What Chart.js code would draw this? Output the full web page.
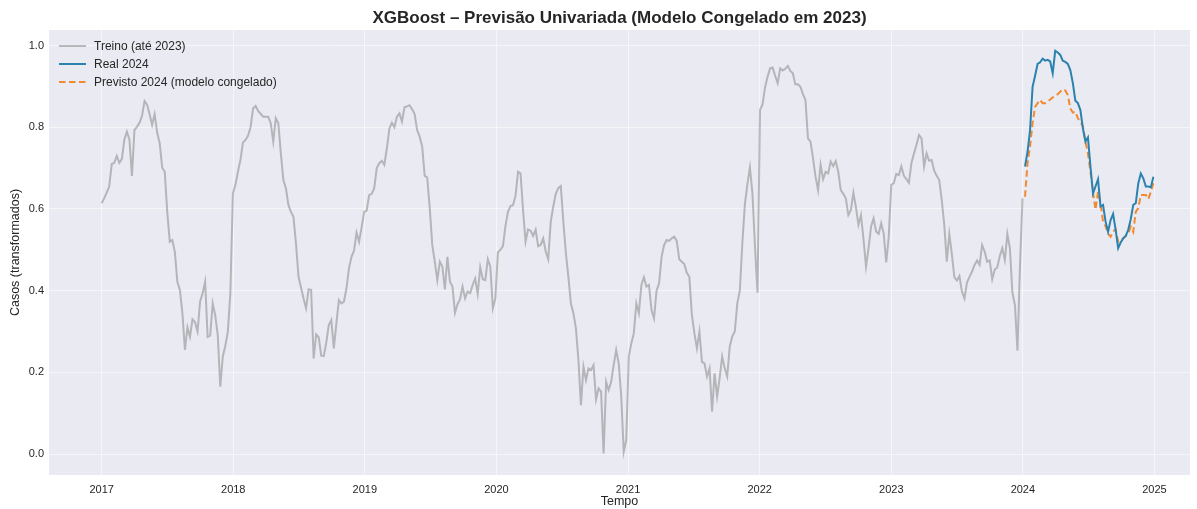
<!DOCTYPE html>
<html><head><meta charset="utf-8">
<script src="https://cdn.jsdelivr.net/npm/chart.js@4.4.1/dist/chart.umd.min.js"></script>
<style>html,body{margin:0;padding:0;background:#fff;} canvas{display:block;}</style>
</head><body>
<canvas id="c" width="1197" height="509"></canvas>
<script>
const chartTitle = 'XGBoost – Previsão Univariada (Modelo Congelado em 2023)';
const xAxisTitle = 'Tempo';
const yAxisTitle = 'Casos (transformados)';
const seriesLabels = ['Treino (até 2023)', 'Real 2024', 'Previsto 2024 (modelo congelado)'];
const trainStart = '2017-01-01';
const testStart = '2024-01-07';
const xTickYears = [2017, 2018, 2019, 2020, 2021, 2022, 2023, 2024, 2025];
const yTickValues = [0.0, 0.2, 0.4, 0.6, 0.8, 1.0];

const trainValues = [
0.614,0.626,0.640,0.655,0.710,0.713,0.730,0.713,0.722,0.770,
0.789,0.770,0.681,0.793,0.801,0.811,0.828,0.864,0.855,0.832,
0.806,0.832,0.787,0.761,0.701,0.691,0.593,0.520,0.524,0.495,
0.422,0.402,0.345,0.255,0.310,0.287,0.330,0.323,0.300,0.373,
0.394,0.422,0.287,0.290,0.369,0.340,0.292,0.165,0.239,0.265,
0.300,0.394,0.638,0.659,0.691,0.720,0.763,0.769,0.779,0.800,
0.846,0.852,0.840,0.833,0.826,0.826,0.826,0.810,0.765,0.822,
0.810,0.736,0.671,0.651,0.610,0.593,0.581,0.516,0.434,0.408,
0.381,0.357,0.403,0.402,0.234,0.293,0.286,0.241,0.240,0.273,
0.316,0.328,0.259,0.320,0.377,0.369,0.373,0.406,0.455,0.483,
0.498,0.542,0.520,0.555,0.593,0.596,0.634,0.637,0.651,0.700,
0.712,0.718,0.708,0.748,0.797,0.811,0.800,0.826,0.834,0.814,
0.849,0.851,0.854,0.844,0.833,0.793,0.777,0.753,0.681,0.677,
0.602,0.512,0.471,0.426,0.471,0.459,0.403,0.483,0.422,0.410,
0.346,0.367,0.379,0.410,0.381,0.398,0.394,0.414,0.430,0.392,
0.457,0.428,0.426,0.477,0.459,0.357,0.381,0.494,0.500,0.509,
0.558,0.593,0.607,0.609,0.632,0.691,0.687,0.597,0.520,0.550,
0.547,0.534,0.549,0.509,0.512,0.528,0.496,0.477,0.569,0.606,
0.637,0.651,0.656,0.569,0.493,0.434,0.369,0.345,0.308,0.230,
0.120,0.214,0.181,0.210,0.206,0.218,0.134,0.161,0.153,0.002,
0.177,0.157,0.177,0.218,0.255,0.222,0.141,0.006,0.035,0.239,
0.271,0.296,0.369,0.345,0.414,0.433,0.410,0.414,0.353,0.332,
0.400,0.418,0.483,0.512,0.524,0.522,0.528,0.532,0.522,0.477,
0.471,0.465,0.444,0.434,0.341,0.296,0.259,0.300,0.226,0.222,
0.190,0.210,0.104,0.198,0.141,0.186,0.239,0.210,0.190,0.263,
0.288,0.300,0.369,0.400,0.516,0.612,0.661,0.702,0.638,0.508,
0.395,0.842,0.856,0.898,0.924,0.944,0.946,0.926,0.908,0.944,
0.939,0.943,0.950,0.938,0.932,0.905,0.905,0.899,0.881,0.867,
0.773,0.765,0.724,0.679,0.646,0.708,0.673,0.691,0.687,0.716,
0.705,0.717,0.691,0.646,0.637,0.626,0.585,0.597,0.640,0.604,
0.561,0.585,0.526,0.459,0.504,0.557,0.577,0.545,0.539,0.565,
0.540,0.469,0.532,0.659,0.663,0.686,0.683,0.704,0.681,0.673,
0.664,0.713,0.736,0.757,0.781,0.773,0.704,0.736,0.718,0.720,
0.694,0.681,0.671,0.622,0.561,0.471,0.539,0.490,0.433,0.425,
0.436,0.398,0.381,0.420,0.434,0.447,0.463,0.474,0.463,0.512,
0.496,0.471,0.474,0.428,0.452,0.457,0.485,0.504,0.475,0.539,
0.504,0.395,0.365,0.253,0.460,0.626
];

const realValues = [
0.704,0.740,0.793,0.899,0.926,0.955,0.959,0.968,0.963,0.965,
0.961,0.932,0.987,0.983,0.977,0.963,0.960,0.955,0.940,0.908,
0.865,0.859,0.842,0.797,0.765,0.775,0.704,0.638,0.655,0.673,
0.606,0.610,0.569,0.544,0.573,0.588,0.549,0.504,0.518,0.528,
0.534,0.549,0.575,0.610,0.614,0.663,0.687,0.675,0.655,0.655,
0.653,0.679
];

const predValues = [
0.630,0.712,0.753,0.810,0.850,0.859,0.867,0.859,0.859,0.863,
0.868,0.873,0.877,0.881,0.887,0.893,0.890,0.879,0.846,0.836,
0.838,0.822,0.814,0.802,0.765,0.736,0.691,0.642,0.598,0.642,
0.614,0.569,0.558,0.540,0.532,0.545,0.550,0.520,0.524,0.528,
0.534,0.540,0.557,0.544,0.593,0.602,0.634,0.634,0.634,0.624,
0.642,0.663
];

const seriesColors = ['rgba(128,128,128,0.5)', '#2c82ae', '#f28a30'];
const textColor = '#262626';
const fontFamily = '"Liberation Sans", Arial, sans-serif';

function weeklyDates(start, n) {
  const d0 = Date.parse(start + 'T00:00:00Z');
  return Array.from({length: n}, (_, i) => d0 + i * 7 * 864e5);
}
function decimalYear(ms) {
  const y = new Date(ms).getUTCFullYear();
  const a = Date.UTC(y, 0, 1), b = Date.UTC(y + 1, 0, 1);
  return y + (ms - a) / (b - a);
}
function toPoints(start, vals) {
  const dates = weeklyDates(start, vals.length);
  return vals.map((v, i) => ({x: decimalYear(dates[i]), y: v}));
}

const datasets = [
  {label: seriesLabels[0], data: toPoints(trainStart, trainValues), borderColor: seriesColors[0], borderWidth: 2, pointRadius: 0, tension: 0},
  {label: seriesLabels[1], data: toPoints(testStart, realValues), borderColor: seriesColors[1], borderWidth: 2, pointRadius: 0, tension: 0},
  {label: seriesLabels[2], data: toPoints(testStart, predValues), borderColor: seriesColors[2], borderWidth: 2, borderDash: [6.5, 3.5], pointRadius: 0, tension: 0}
];

const decorPlugin = {
  id: 'decor',
  beforeDraw(chart) {
    const {ctx, chartArea: a} = chart;
    ctx.save();
    ctx.fillStyle = '#EAEAF2';
    ctx.fillRect(a.left, a.top, a.right - a.left, a.bottom - a.top);
    ctx.restore();
  },
  afterDraw(chart) {
    const {ctx, chartArea: a} = chart;
    ctx.save();
    ctx.fillStyle = textColor;
    ctx.font = 'bold 17px ' + fontFamily;
    ctx.textAlign = 'center';
    ctx.textBaseline = 'middle';
    ctx.fillText(chartTitle, (a.left + a.right) / 2, 18);
    ctx.font = '12px ' + fontFamily;
    ctx.textAlign = 'left';
    chart.data.datasets.forEach((ds, i) => {
      const y = 46 + i * 18;
      ctx.strokeStyle = ds.borderColor;
      ctx.lineWidth = ds.borderWidth;
      ctx.setLineDash(ds.borderDash || []);
      ctx.beginPath();
      ctx.moveTo(59, y);
      ctx.lineTo(86, y);
      ctx.stroke();
      ctx.setLineDash([]);
      ctx.fillStyle = textColor;
      ctx.fillText(ds.label, 94, y + 0.5);
    });
    ctx.restore();
  }
};

new Chart(document.getElementById('c'), {
  type: 'line',
  data: {datasets},
  options: {
    responsive: false,
    animation: false,
    devicePixelRatio: 1,
    layout: {padding: {top: 30, right: 7, bottom: 0, left: 0}},
    plugins: {legend: {display: false}, title: {display: false}, tooltip: {enabled: false}},
    scales: {
      x: {
        type: 'linear', min: 2016.6, max: 2025.27,
        grid: {color: 'rgba(255,255,255,0.55)', lineWidth: 1, drawTicks: false},
        border: {display: false},
        afterBuildTicks: s => { s.ticks = xTickYears.map(v => ({value: v})); },
        afterFit: s => { s.height = 34; },
        ticks: {color: textColor, font: {size: 11, family: fontFamily}, padding: 8, maxRotation: 0, callback: v => String(v)},
        title: {display: true, text: xAxisTitle, color: textColor, font: {size: 12.5, family: fontFamily}, padding: {top: 0, bottom: 0}}
      },
      y: {
        type: 'linear', min: -0.051, max: 1.038,
        grid: {color: 'rgba(255,255,255,0.55)', lineWidth: 1, drawTicks: false},
        border: {display: false},
        afterBuildTicks: s => { s.ticks = yTickValues.map(v => ({value: v})); },
        afterFit: s => { s.width = 49; },
        ticks: {color: textColor, font: {size: 11, family: fontFamily}, padding: 5, callback: v => Number(v).toFixed(1)},
        title: {display: true, text: yAxisTitle, color: textColor, font: {size: 12.5, family: fontFamily}, padding: {top: 8, bottom: 0}}
      }
    }
  },
  plugins: [decorPlugin]
});
</script>
</body></html>
